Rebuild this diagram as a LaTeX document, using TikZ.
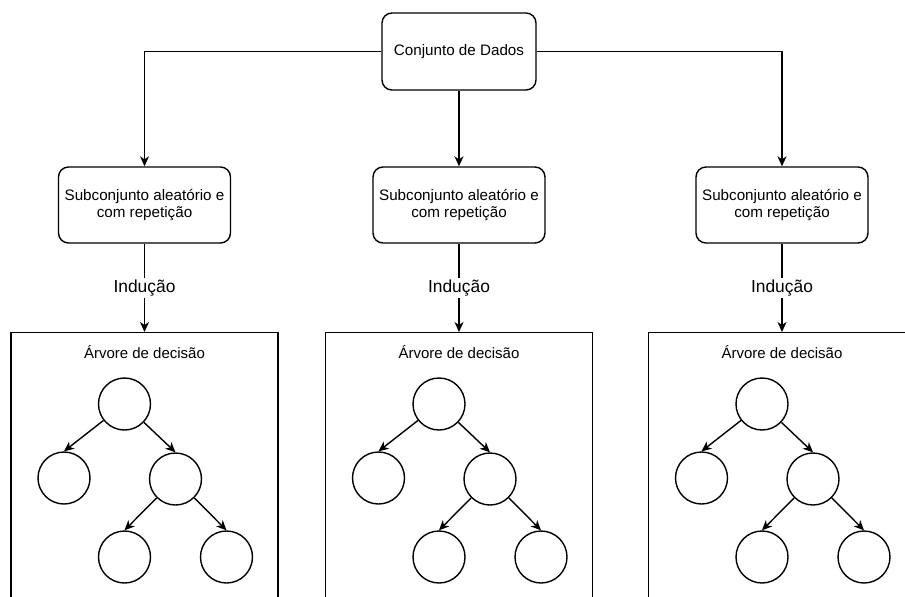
\documentclass[tikz,border=0pt]{standalone}
\usepackage{fontspec}
\setmainfont{Liberation Sans}
\usetikzlibrary{arrows.meta,positioning}
\tikzset{
  databox/.style={rectangle, rounded corners=10pt, draw=black, line width=1.4pt, fill=white,
             minimum width=154pt, minimum height=77pt, inner sep=0pt, font=\fontsize{15.2}{17}\selectfont},
  subbox/.style={rectangle, rounded corners=10pt, draw=black, line width=1.4pt, fill=white,
             minimum width=172pt, minimum height=76pt, inner sep=0pt, align=center,
             font=\fontsize{15.2}{17}\selectfont},
  treebox/.style={rectangle, draw=black, line width=1.4pt, minimum width=267pt,
             minimum height=290pt, anchor=north},
  tnode/.style={circle, draw=black, line width=1.4pt, minimum size=52pt, inner sep=0pt},
  flow/.style={line width=1.4pt, draw=black, -{Stealth[length=10pt, width=9pt, inset=3pt]}},
  tedge/.style={line width=1.4pt, draw=black, -{Stealth[length=10pt, width=9pt, inset=3pt]}},
  ilabel/.style={fill=white, inner sep=2pt, font=\fontsize{17.4}{20}\selectfont},
  tlabel/.style={font=\fontsize{15}{17}\selectfont},
}

\begin{document}
\begin{tikzpicture}[x=1pt, y=-1pt]
\useasboundingbox (0,0) rectangle (905,597);
\clip (0,0) rectangle (905,597);
% ===================== data set on top
\node[databox] (D) at (459,51.5) {Conjunto de Dados};
% ===================== one column per random subset
\foreach \i/\x in {1/144.5, 2/459, 3/782}{
  \node[subbox] (S\i) at (\x,205) {Subconjunto aleatório e\\com repetição};
  \node[treebox] (B\i) at (\x,332) {};
  \node[tlabel] (L\i) at (\x,352) {Árvore de decisão};
  \draw[flow] (S\i) -- node[ilabel] {Indução} (B\i.north);
  % decision tree
  \pgfmathsetmacro{\xr}{\x-20}
  \pgfmathsetmacro{\xa}{\x-80.5}
  \pgfmathsetmacro{\xb}{\x+31}
  \pgfmathsetmacro{\xc}{\x+82}
  \node[tnode] (R\i) at (\xr,404) {};
  \node[tnode] (A\i) at (\xa,478) {};
  \node[tnode] (C\i) at (\xb,479) {};
  \node[tnode] (E\i) at (\xr,557) {};
  \node[tnode] (F\i) at (\xc,557) {};
  \draw[tedge] (R\i) -- (A\i.north);
  \draw[tedge] (R\i) -- (C\i.north);
  \draw[tedge] (C\i) -- (E\i.north);
  \draw[tedge] (C\i) -- (F\i.north);
}
% ===================== links from the data set
\draw[flow] (D.west) -| (S1.north);
\draw[flow] (D) -- (S2);
\draw[flow] (D.east) -| (S3.north);
\end{tikzpicture}
\end{document}
